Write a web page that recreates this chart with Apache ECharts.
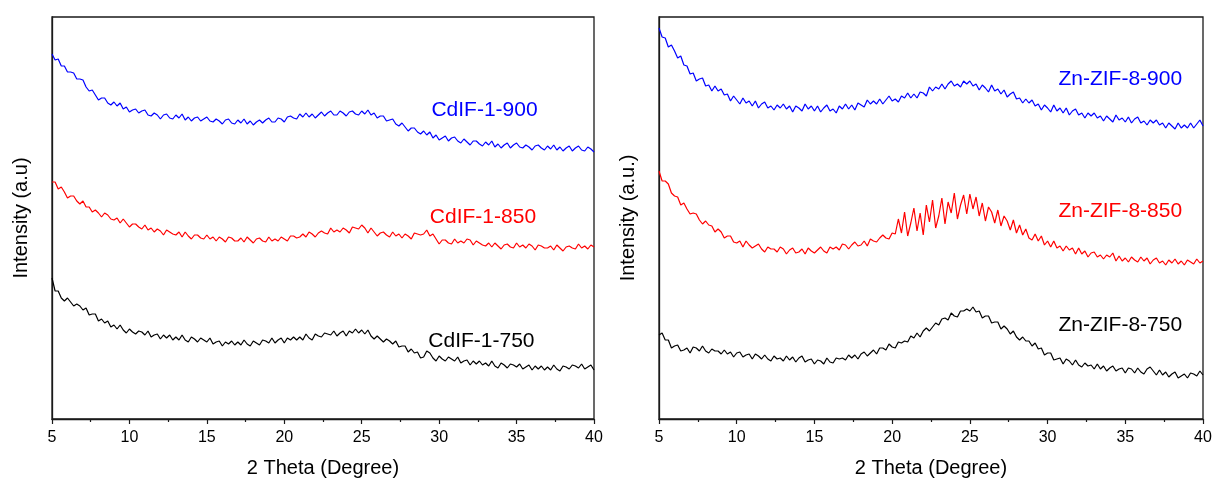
<!DOCTYPE html>
<html>
<head>
<meta charset="utf-8">
<title>XRD patterns</title>
<script src="https://cdn.jsdelivr.net/npm/echarts@6/dist/echarts.min.js"></script>
<style>
  html, body { margin: 0; padding: 0; background: #ffffff; }
  #chart { width: 1213px; height: 479px; }
</style>
</head>
<body>
<div id="chart"></div>
<script>
// Scan settings shared by every pattern: 2θ from 5° in 0.2° steps up to 40°.
const START_ANGLE = 5;
const STEP_ANGLE = 0.2;

const tickValues = [5, 10, 15, 20, 25, 30, 35, 40];

// Intensities (a.u.), one value per step.
const cdif900 = [
  365,359,360,353,353,347,347,346,340,340, 339,332,328,329,324,319,321,321,316,314,
  317,313,316,310,312,307,309,310,306,308, 309,304,303,306,304,300,304,305,301,300,
  304,301,305,299,302,298,301,302,298,300, 302,298,297,300,298,295,299,300,296,295,
  299,296,300,295,298,294,297,299,296,299, 301,297,297,301,300,297,302,303,301,300,
  305,302,306,302,305,301,304,307,303,306, 308,304,304,308,306,303,307,308,305,304,
  308,305,309,304,306,301,303,303,298,299, 300,295,293,296,292,288,291,291,287,285,
  288,284,287,281,284,279,281,283,278,281, 282,278,276,280,277,274,278,278,275,273,
  277,274,278,272,275,271,274,276,271,274, 276,272,271,274,272,269,273,274,271,269,
  273,270,274,269,272,268,271,273,268,271, 273,269,268,272,270,267
];
const cdif850 = [
  237,237,230,232,227,221,223,223,218,215, 218,212,212,207,209,206,202,206,204,200,
  199,201,196,200,196,192,195,195,192,190, 194,189,191,187,190,188,184,189,187,185,
  184,187,182,187,183,180,184,184,181,180, 184,180,182,178,182,180,177,182,181,178,
  178,181,177,182,179,176,180,181,178,177, 182,178,180,178,182,180,178,183,183,181,
  182,185,182,187,185,182,186,188,186,185, 191,187,189,187,191,189,186,192,191,190,
  194,191,186,191,187,183,186,187,184,182, 187,183,185,181,185,183,180,186,185,184,
  185,189,183,185,180,175,179,179,176,175, 180,176,178,176,180,179,174,178,176,174,
  173,176,172,176,173,170,174,175,172,171, 176,172,174,171,175,173,169,174,173,171,
  171,173,169,174,171,168,172,173,171,170, 175,171,173,170,174,172
];
const cdif750 = [
  141,128,128,121,118,121,117,113,115,113, 109,111,104,105,105,98,100,96,98,92,
  94,90,94,89,86,90,87,85,88,87, 84,88,82,84,85,80,84,81,84,79,
  82,79,84,79,77,82,80,77,81,79, 77,81,75,77,78,73,77,75,78,74,
  77,74,79,75,73,78,76,74,79,78, 76,81,76,79,81,76,81,79,82,79,
  82,79,85,81,79,85,83,82,86,85, 84,88,83,86,88,83,88,86,90,86,
  89,85,89,83,80,83,80,77,80,78, 75,78,72,73,73,67,70,66,67,61,
  62,68,66,61,58,63,60,58,62,60, 58,62,56,58,59,54,58,55,58,54,
  56,53,58,53,51,56,54,51,55,54, 52,55,50,52,54,49,53,50,53,49,
  52,49,54,50,48,53,52,50,54,53, 51,55,50,52,54,49
];
const zif900 = [
  391,382,381,372,374,368,361,363,354,353, 345,346,338,340,341,333,334,328,333,328,
  330,324,325,318,323,319,315,321,316,318, 313,318,311,315,317,311,313,309,314,311,
  315,310,313,307,313,311,308,315,310,313, 308,313,307,311,314,308,310,306,313,310,
  315,310,314,309,316,314,312,319,315,318, 315,320,315,319,323,318,320,317,323,321,
  326,321,325,321,327,326,323,332,328,332, 330,335,330,335,338,333,335,332,338,335,
  338,333,335,329,334,331,327,334,328,330, 325,329,322,325,327,320,321,316,320,316,
  319,313,315,309,314,311,307,314,308,311, 306,311,304,308,310,304,306,301,306,303,
  306,301,303,298,303,300,297,304,299,301, 297,302,296,300,302,296,298,294,299,296,
  299,294,296,291,296,293,290,296,291,294, 291,296,291,295,299,293
];
const zif850 = [
  248,238,238,235,226,223,222,214,216,210, 205,206,205,199,195,198,194,193,187,190,
  187,181,183,183,177,176,178,172,178,174, 171,173,175,170,167,172,170,170,167,172,
  170,165,169,171,166,167,170,165,171,168, 166,169,172,168,166,172,170,172,169,175,
  174,170,174,177,173,174,178,173,180,178, 177,181,184,181,180,186,185,200,186,207,
  183,196,211,188,206,184,214,197,219,191, 203,221,195,217,206,226,200,214,224,205,
  225,210,222,203,216,198,212,207,196,209, 193,203,198,189,199,186,194,184,190,181,
  179,185,178,183,174,178,172,178,171,173, 168,173,169,171,165,171,165,168,162,166,
  167,162,164,160,164,162,166,158,163,158, 161,157,162,159,157,162,158,161,155,159,
  161,156,158,154,159,156,160,155,158,154, 159,157,155,160,156,158
];
const zif750 = [
  84,86,79,79,71,73,74,68,69,71, 66,72,71,68,73,68,66,70,68,68,
  65,69,65,67,62,66,67,62,64,65, 60,65,63,60,64,60,58,63,60,61,
  58,63,59,62,57,61,63,57,59,60, 55,59,58,55,61,57,56,61,60,61,
  59,64,61,64,60,65,67,63,66,69, 65,71,71,69,75,72,71,77,76,78,
  77,83,81,86,82,88,91,88,92,96, 94,100,101,99,106,103,102,108,108,110,
  108,112,107,108,101,103,103,96,97,97, 90,93,90,85,88,82,79,82,78,78,
  73,76,70,71,64,66,66,59,60,61, 55,60,58,54,59,54,52,56,53,54,
  50,55,50,53,48,51,53,48,50,51, 46,51,50,46,51,47,45,50,52,48,
  44,49,44,47,42,45,47,41,43,45, 41,46,45,43,48,44
];

const sampleNames = ['CdIF-1-900', 'CdIF-1-850', 'CdIF-1-750', 'Zn-ZIF-8-900', 'Zn-ZIF-8-850', 'Zn-ZIF-8-750'];
const xTitle = '2 Theta (Degree)';
const yTitles = ['Intensity (a.u)', 'Intensity (a.u.)'];

// ---- drawing ----
const FONT = '"Liberation Sans", Arial, Helvetica, sans-serif';
const INK = '#1a1a1a';

function toPairs(values) {
  return values.map((v, i) => [Number((START_ANGLE + i * STEP_ANGLE).toFixed(1)), v]);
}

// Where each sample's name is written, in (2θ, intensity) coordinates.
const nameAnchors = [[29.5, 309], [29.4, 202], [29.3, 78], [30.7, 340], [30.7, 208], [30.7, 94]];
const colours = ['#0000ff', '#ff0000', '#000000', '#0000ff', '#ff0000', '#000000'];
const patterns = [cdif900, cdif850, cdif750, zif900, zif850, zif750];

function xAxisFor(gridIndex) {
  return {
    gridIndex, type: 'value', min: 5, max: 40, interval: 5,
    axisLine: { show: true, onZero: false, lineStyle: { color: INK, width: 1.3 } },
    axisTick: { show: true, inside: false, length: 5, lineStyle: { color: INK, width: 1.2 } },
    minorTick: { show: true, splitNumber: 2, length: 3, lineStyle: { color: INK, width: 1.2 } },
    splitLine: { show: false },
    minorSplitLine: { show: false },
    axisLabel: {
      color: '#000', fontSize: 16, fontFamily: FONT, margin: 11,
      formatter: v => tickValues.includes(v) ? String(v) : ''
    },
    name: xTitle, nameLocation: 'middle', nameGap: 39,
    nameTextStyle: { color: '#000', fontSize: 20, fontFamily: FONT }
  };
}

function yAxisFor(gridIndex) {
  return {
    gridIndex, type: 'value', min: 0, max: 402,
    axisLine: { show: true, onZero: false, lineStyle: { color: INK, width: 1.3 } },
    axisTick: { show: false },
    axisLabel: { show: false },
    splitLine: { show: false },
    name: yTitles[gridIndex], nameLocation: 'middle', nameGap: 21,
    nameTextStyle: { color: '#000', fontSize: 20, fontFamily: FONT }
  };
}

const series = patterns.map((values, k) => {
  const panel = k < 3 ? 0 : 1;
  return {
    name: sampleNames[k],
    type: 'line',
    xAxisIndex: panel, yAxisIndex: panel,
    data: toPairs(values),
    showSymbol: false, symbol: 'none', smooth: false, sampling: 'none',
    lineStyle: { color: colours[k], width: 1.2 },
    itemStyle: { color: colours[k] },
    z: 3,
    markPoint: {
      symbol: 'circle', symbolSize: 0, silent: true, animation: false,
      data: [{ coord: nameAnchors[k], value: sampleNames[k] }],
      itemStyle: { color: 'transparent' },
      label: {
        show: true, position: 'right', distance: 0,
        formatter: sampleNames[k],
        color: colours[k], fontSize: 21, fontFamily: FONT
      }
    }
  };
});

const gridBase = {
  top: 17, bottom: 60, show: true, borderColor: INK, borderWidth: 1.3,
  backgroundColor: 'transparent', containLabel: false, outerBoundsMode: 'none'
};

const chart = echarts.init(document.getElementById('chart'), null, { renderer: 'canvas' });
chart.setOption({
  backgroundColor: '#ffffff',
  animation: false,
  textStyle: { fontFamily: FONT },
  grid: [
    Object.assign({ left: 52, right: 619 }, gridBase),
    Object.assign({ left: 659, right: 10 }, gridBase)
  ],
  xAxis: [xAxisFor(0), xAxisFor(1)],
  yAxis: [yAxisFor(0), yAxisFor(1)],
  series
});
</script>
</body>
</html>
